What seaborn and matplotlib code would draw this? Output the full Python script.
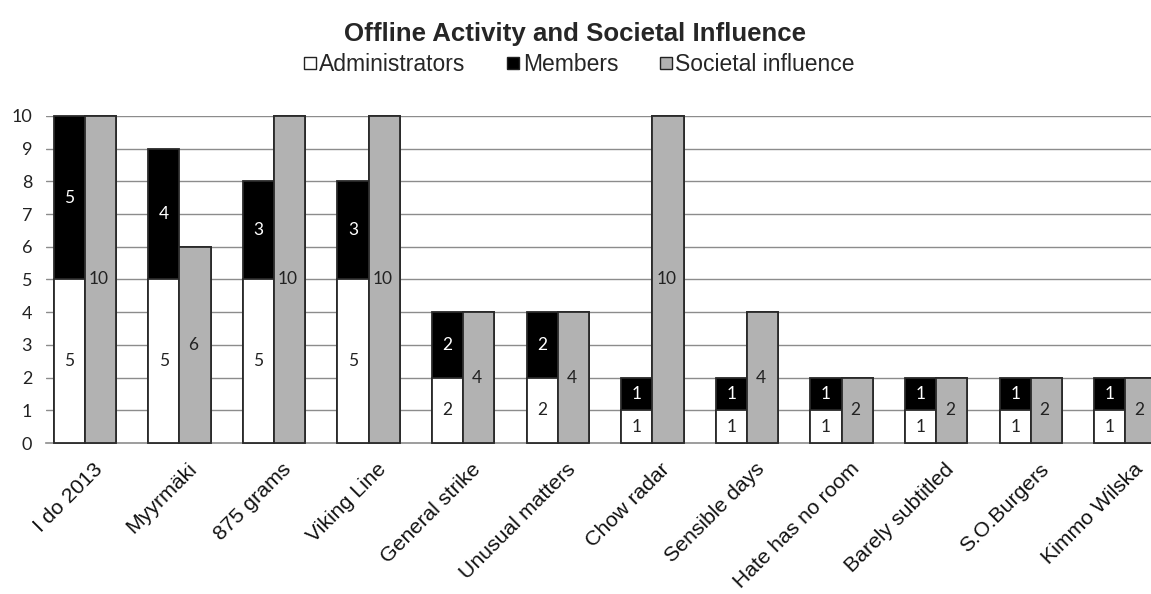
import matplotlib
matplotlib.use("Agg")
import matplotlib.pyplot as plt
import matplotlib.transforms as mtransforms
import seaborn as sns
import pandas as pd
from matplotlib.lines import Line2D

categories = ["I do 2013", "Myyrmäki", "875 grams", "Viking Line", "General strike",
              "Unusual matters", "Chow radar", "Sensible days", "Hate has no room",
              "Barely subtitled", "S.O.Burgers", "Kimmo Wilska"]
administrators = [5, 5, 5, 5, 2, 2, 1, 1, 1, 1, 1, 1]
members = [5, 4, 3, 3, 2, 2, 1, 1, 1, 1, 1, 1]
societal = [10, 6, 10, 10, 4, 4, 10, 4, 2, 2, 2, 2]
y_ticks = list(range(0, 11))

title = "Offline Activity and Societal Influence"
legend_labels = ["Administrators", "Members", "Societal influence"]

sns.set_theme(style="white")
plt.rcParams["font.family"] = ["Liberation Sans", "DejaVu Sans"]

WHITE, BLACK, GRAY = "#ffffff", "#000000", "#b2b2b2"
EDGE = "#2a2a2a"

totals = [a + m for a, m in zip(administrators, members)]
df_tot = pd.DataFrame({
    "cat": categories * 2,
    "val": totals + societal,
    "kind": ["people"] * len(categories) + ["societal"] * len(categories),
})
df_adm = pd.DataFrame({
    "cat": categories * 2,
    "val": administrators + societal,
    "kind": ["people"] * len(categories) + ["societal"] * len(categories),
})

fig = plt.figure(figsize=(11.51, 5.94), dpi=100)
ax = fig.add_axes([0.040, 0.254, 0.960, 0.551])

ax.set_axisbelow(True)
for v in y_ticks[1:]:
    ax.axhline(v, color="#8c8c8c", lw=1.0, zorder=0)

sns.barplot(data=df_tot, x="cat", y="val", hue="kind", hue_order=["people", "societal"],
            palette=[BLACK, GRAY], width=0.66, dodge=True, gap=0,
            edgecolor=EDGE, linewidth=1.3, legend=False, ax=ax, zorder=2)
sns.barplot(data=df_adm, x="cat", y="val", hue="kind", hue_order=["people", "societal"],
            palette=[WHITE, GRAY], width=0.66, dodge=True, gap=0,
            edgecolor=EDGE, linewidth=1.3, legend=False, ax=ax, zorder=3)

for p in ax.patches:
    p.set_clip_on(False)

# containers: 0 totals people, 1 societal, 2 admin, 3 societal
tot_c, soc_c, adm_c = ax.containers[0], ax.containers[1], ax.containers[2]
lab_font = ["Lato", "DejaVu Sans"]
for i, (pt, pa, ps) in enumerate(zip(tot_c.patches, adm_c.patches, soc_c.patches)):
    xc = pa.get_x() + pa.get_width() / 2
    ax.text(xc, administrators[i] / 2, str(administrators[i]), ha="center", va="center",
            fontsize=12.5, color="#222", family=lab_font, zorder=5)
    ax.text(xc, administrators[i] + members[i] / 2, str(members[i]), ha="center", va="center",
            fontsize=12.5, color="white", family=lab_font, zorder=5)
    xs = ps.get_x() + ps.get_width() / 2 - 0.02
    ax.text(xs, societal[i] / 2, str(societal[i]), ha="center", va="center",
            fontsize=12.5, color="#222", family=lab_font, zorder=5)

ax.set_ylim(0, 10)
ax.set_xlim(-0.41, 11.27)
ax.set_yticks(y_ticks)
ax.set_yticklabels([str(t) for t in y_ticks], family=lab_font, fontsize=13, color="#222")
ax.set_xlabel("")
ax.set_ylabel("")
ax.tick_params(axis="y", which="both", left=False, length=0, pad=10)
ax.tick_params(axis="x", bottom=False, pad=0)
offset = mtransforms.ScaledTranslation(0.08, -0.08, fig.dpi_scale_trans)
for lab in ax.get_xticklabels():
    lab.set_rotation(45)
    lab.set_ha("right")
    lab.set_va("top")
    lab.set_rotation_mode("anchor")
    lab.set_fontsize(15.3)
    lab.set_color("#111")
    lab.set_transform(lab.get_transform() + offset)
for s in ["top", "right", "left"]:
    ax.spines[s].set_visible(False)
ax.spines["bottom"].set_color("#8c8c8c")
ax.spines["bottom"].set_linewidth(1.2)

fig.text(0.5, 0.943, title, ha="center", va="center", fontsize=18.6, fontweight="bold")
handles = [Line2D([], [], marker="s", ls="none", markersize=9, markerfacecolor=c,
                  markeredgecolor="#222", markeredgewidth=1)
           for c in [WHITE, BLACK, GRAY]]
fig.legend(handles, legend_labels, loc="center", bbox_to_anchor=(0.503, 0.892), ncol=3,
           frameon=False, fontsize=16.5, handletextpad=0.1, columnspacing=1.8,
           handlelength=0.6)

fig.savefig("out.png", dpi=100)
